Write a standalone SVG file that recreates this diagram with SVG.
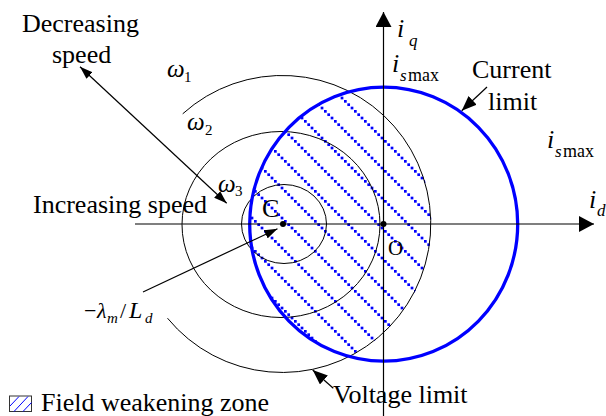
<svg xmlns="http://www.w3.org/2000/svg" width="606" height="416" viewBox="0 0 606 416">
<style>
text{font-family:'Liberation Serif','Times New Roman',serif;fill:#000}
.lb{font-size:26px}
.it{font-style:italic}
.up{font-style:normal}
.w{font-size:25px;font-style:italic}
.thin{fill:none;stroke:#000;stroke-width:1}
.lim{fill:none;stroke:#0000ff;stroke-width:3.3}
.ln{stroke:#000;stroke-width:1.2;fill:none}
.hb{fill:#0000ff}
</style>
<defs>
<pattern id="hatch" patternUnits="userSpaceOnUse" x="4" y="0" width="30" height="30">
<rect class="hb" x="0" y="0" width="2.7" height="2.7"/>
<rect class="hb" x="3.333" y="3.333" width="2.7" height="2.7"/>
<rect class="hb" x="6.667" y="6.667" width="2.7" height="2.7"/>
<rect class="hb" x="10" y="10" width="2.7" height="2.7"/>
<rect class="hb" x="13.333" y="13.333" width="2.7" height="2.7"/>
<rect class="hb" x="16.667" y="16.667" width="2.7" height="2.7"/>
<rect class="hb" x="20" y="20" width="2.7" height="2.7"/>
<rect class="hb" x="23.333" y="23.333" width="2.7" height="2.7"/>
<rect class="hb" x="26.667" y="26.667" width="2.7" height="2.7"/>
</pattern>
<clipPath id="cur"><ellipse cx="383.7" cy="224.2" rx="134" ry="137"/></clipPath>
<marker id="big" viewBox="0 0 15 16" refX="15" refY="8" markerWidth="15" markerHeight="16" orient="auto" markerUnits="userSpaceOnUse"><path d="M0,0 L15,8 L0,16 z" fill="#000"/></marker>
<marker id="mid" viewBox="0 0 15 12" refX="15" refY="6" markerWidth="15" markerHeight="12" orient="auto" markerUnits="userSpaceOnUse"><path d="M0,0 L15,6 L0,12 z" fill="#000"/></marker>
<marker id="sm" viewBox="0 0 13 9" refX="13" refY="4.5" markerWidth="13" markerHeight="9" orient="auto-start-reverse" markerUnits="userSpaceOnUse"><path d="M0,0 L13,4.5 L0,9 z" fill="#000"/></marker>
</defs>

<g id="field-weakening-zone">
<circle cx="283" cy="224" r="148.5" fill="url(#hatch)" clip-path="url(#cur)"/>
</g>

<g id="voltage-limit-w3"><ellipse class="thin" cx="284" cy="224" rx="42.5" ry="39.5"/></g>
<g id="voltage-limit-w2"><ellipse class="thin" cx="281" cy="224.5" rx="99" ry="93"/></g>
<g id="voltage-limit-w1"><path class="thin" d="M182.7,113.8 A148.5,148.5 0 1 1 167.5,318.2"/></g>
<g id="current-limit"><ellipse class="lim" cx="383.7" cy="224.2" rx="134" ry="137"/></g>

<g id="connectors">
<path class="ln" d="M135,224 L594,224" marker-end="url(#big)"/>
<path class="ln" stroke="#333" d="M383.5,416 L383.5,12" marker-end="url(#big)"/>
<path class="ln" stroke-width="1" d="M80,66.7 L226.7,203.3" marker-start="url(#sm)" marker-end="url(#sm)"/>
<path class="ln" stroke-width="1" d="M143,292 L277.5,228.8" marker-end="url(#sm)"/>
<path class="ln" stroke-width="1" d="M487,87 L461.7,110.7" marker-end="url(#mid)"/>
<path class="ln" stroke-width="1" d="M333.3,388.3 L312.7,370" marker-end="url(#mid)"/>
</g>

<g id="point-C">
<circle cx="283" cy="224" r="3"/>
<text class="lb" x="262" y="217">C</text>
</g>
<g id="point-O">
<circle cx="383.5" cy="224" r="3"/>
<text x="388" y="255" font-size="21">O</text>
</g>

<g id="labels">
<text class="lb" x="22" y="32">Decreasing</text>
<text class="lb" x="52" y="63">speed</text>
<text class="lb" x="33" y="213">Increasing speed</text>
<text class="lb" x="472" y="78">Current</text>
<text class="lb" x="488" y="110">limit</text>
<text class="lb" x="333" y="403">Voltage limit</text>

<text class="w" x="167" y="77">ω<tspan class="up" font-size="15" x="184" dy="5">1</tspan></text>
<text class="w" x="187" y="130">ω<tspan class="up" font-size="15" x="205" dy="5">2</tspan></text>
<text class="w" x="218" y="192">ω<tspan class="up" font-size="15" x="235" dy="4">3</tspan></text>

<text x="84" y="318" font-size="22">−<tspan class="it" x="97">λ</tspan><tspan class="it" font-size="15" x="107" dy="5">m</tspan><tspan x="120" dy="-5">/</tspan><tspan class="it" font-size="24" x="129">L</tspan><tspan class="it" font-size="15" x="145" dy="5">d</tspan></text>

<text class="it" x="397" y="37" font-size="26">i<tspan font-size="17" x="409" dy="9">q</tspan></text>
<text class="it" x="392" y="72" font-size="26">i<tspan font-size="17" x="400" dy="9">s</tspan><tspan class="up" font-size="18" x="408">max</tspan></text>
<text class="it" x="547" y="148" font-size="26">i<tspan font-size="17" x="555" dy="9">s</tspan><tspan class="up" font-size="18" x="563">max</tspan></text>
<text class="it" x="589" y="208" font-size="26">i<tspan font-size="17" x="597" dy="8">d</tspan></text>
</g>

<g id="legend">
<rect x="9.5" y="396" width="22" height="15.5" fill="#fff" stroke="#333" stroke-width="1"/>
<path d="M10,406 L19,396.5 M14,411.5 L28,396.5 M23,411.5 L31.5,402.5" stroke="#0000ff" stroke-width="1" fill="none"/>
<text class="lb" x="41" y="411">Field weakening zone</text>
</g>
</svg>
